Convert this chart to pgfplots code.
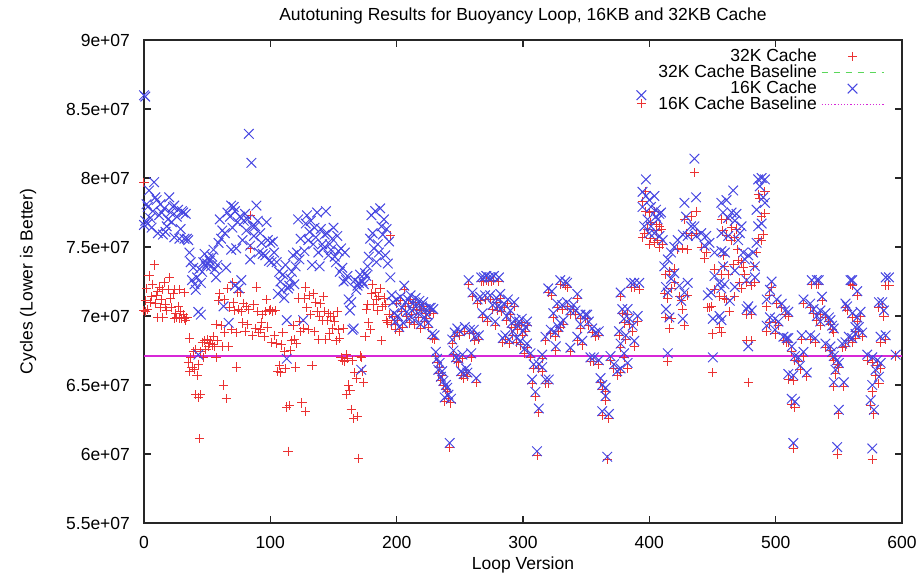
\documentclass[border=0pt]{standalone}
\usepackage{pgfplots}
\pgfplotsset{compat=1.18}
\usepackage{fontspec}
\setmainfont{Liberation Sans}
\definecolor{myred}{RGB}{235,50,50}
\definecolor{myblue}{RGB}{70,70,225}
\definecolor{mygreen}{RGB}{90,215,90}
\definecolor{mymag}{RGB}{215,40,215}
\begin{document}
\begin{tikzpicture}
\path[use as bounding box] (-72pt,-26pt) rectangle (389.5pt,261.5pt);
\begin{axis}[
  at={(0,0)}, anchor=south west,
  scale only axis, width=379pt, height=241.5pt,
  xmin=0, xmax=600, ymin=55, ymax=90,
  xtick={0,100,200,300,400,500,600},
  xticklabels={0,100,200,300,400,500,600},
  ytick={55,60,65,70,75,80,85,90},
  yticklabels={5.5e+07,6e+07,6.5e+07,7e+07,7.5e+07,8e+07,8.5e+07,9e+07},
  tick align=inside, major tick length=3.5pt, minor tick num=0,
  axis line style={black!85, line width=0.6pt},
  every tick/.style={black!85, line width=0.6pt},
  font=\fontsize{8.75}{10}\selectfont,
  yticklabel style={anchor=east, xshift=-3.5pt},
  xticklabel style={anchor=north, yshift=-3pt},
  title={Autotuning Results for Buoyancy Loop, 16KB and 32KB Cache},
  every axis title/.style={at={(axis description cs:0.5,1)}, anchor=base, yshift=10pt, font=\fontsize{8.75}{10}\selectfont},
  xlabel={Loop Version},
  every axis x label/.style={at={(axis description cs:0.5,0)}, anchor=base, yshift=-23pt},
  ylabel={Cycles (Lower is Better)},
  every axis y label/.style={at={(axis description cs:0,0.5)}, rotate=90, anchor=center, yshift=58pt},
  legend plot pos=right,
  legend cell align=right,
  legend image code/.code={\draw[mark repeat=2,mark phase=2,#1] plot coordinates {(0pt,0pt) (15.5pt,0pt) (31pt,0pt)};},
  legend style={draw=none, fill=none, at={(rel axis cs:0.977,0.983)}, anchor=north east,
    inner sep=0pt, row sep=0pt, column sep=2pt,
    nodes={inner sep=0pt, text height=6.2pt, text depth=1.8pt}},
]
% 32K Cache (red +)
\addplot[only marks, mark=+, mark size=2.3pt, color=myred, mark options={line width=0.5pt}, forget plot] coordinates {
(0,79.7)(0,70.4)(1,71.1)(1,70.3)(2,72.0)(3,70.5)(4,72.9)(5,71.0)(6,71.4)(7,72.3)(8,73.7)(9,70.9)(10,71.5)(11,71.8)(11,69.9)(12,72.1)(13,70.6)(14,71.2)(15,71.9)(15,69.9)(16,72.4)(17,70.8)(18,70.4)(19,71.9)(20,72.8)(21,71.3)(22,70.6)(23,71.6)(24,71.9)(24,69.8)(25,70.2)(26,69.9)(27,70.7)(28,71.9)(28,69.8)(29,70.3)(30,69.8)(31,70.1)(32,71.7)(32,69.8)(33,69.7)(34,69.9)(35,66.6)(36,68.4)(36,66.0)(37,67.0)(38,66.3)(39,67.4)(40,66.1)(41,67.6)(41,64.3)(42,65.7)(43,66.5)(43,64.1)(44,61.1)(45,67.4)(45,64.3)(46,68.1)(47,67.0)(48,68.2)(49,67.6)(50,68.3)(51,67.8)(52,68.0)(53,68.2)(54,67.9)(55,68.5)(56,67.8)(57,67.0)(57,69.4)(58,68.2)(59,71.1)(60,71.6)(61,69.3)(62,67.8)(63,65.0)(64,68.8)(64,71.2)(65,64.0)(66,72.0)(67,67.8)(68,70.6)(69,69.0)(70,72.4)(71,71.0)(72,70.4)(73,68.8)(73,66.3)(74,71.7)(75,70.5)(76,71.7)(77,70.3)(78,69.5)(79,70.9)(80,68.9)(81,70.7)(82,69.4)(83,70.5)(84,77.3)(84,74.9)(86,68.6)(87,70.8)(88,69.1)(89,72.1)(90,70.3)(91,68.8)(92,69.0)(93,69.5)(94,70.1)(95,68.5)(96,70.3)(97,71.2)(98,69.2)(99,70.4)
(100,70.5)(101,68.1)(102,70.3)(103,68.6)(104,70.4)(105,68.0)(106,66.0)(107,66.4)(108,65.9)(109,67.9)(110,68.8)(111,67.4)(112,66.2)(113,63.4)(114,60.2)(115,63.5)(116,67.5)(117,68.2)(118,69.3)(119,68.3)(120,66.3)(121,68.0)(122,71.3)(123,69.6)(124,68.9)(125,63.7)(126,69.1)(127,71.3)(128,72.1)(128,63.1)(129,70.6)(130,69.0)(131,71.5)(132,70.1)(133,66.4)(134,71.6)(135,68.9)(136,71.0)(137,70.3)(138,68.3)(139,70.0)(140,70.9)(141,69.7)(142,71.4)(143,70.3)(144,68.3)(145,69.7)(146,70.2)(147,68.7)(148,70.0)(149,69.1)(150,70.0)(151,69.6)(152,68.2)(153,70.3)(154,69.0)(155,68.4)(156,67.0)(157,66.8)(158,69.1)(159,66.7)(160,67.2)(160,64.3)(161,66.9)(162,65.0)(163,64.6)(164,63.2)(165,66.8)(166,62.6)(167,65.9)(168,65.5)(169,62.7)(170,59.7)(171,67.1)(172,67.0)(173,66.0)(174,65.2)(175,68.5)(176,70.5)(177,70.8)(178,69.5)(179,69.0)(180,71.6)(181,72.3)(182,70.8)(183,71.7)(184,71.2)(185,70.4)(186,71.4)(187,72.0)(188,68.2)(189,70.7)(190,71.3)(191,70.8)(192,69.7)(193,69.5)(194,70.1)(195,75.8)(196,69.4)(197,70.0)(198,69.7)(199,69.0)
(200,70.9)(201,69.7)(202,68.9)(203,71.1)(204,70.3)(205,69.2)(206,71.9)(207,70.7)(208,70.0)(209,70.9)(210,69.5)(211,71.2)(212,70.1)(213,70.6)(214,69.4)(215,71.0)(216,70.5)(217,69.9)(218,70.8)(219,69.1)(220,70.4)(221,70.7)(222,69.6)(223,70.2)(224,69.8)(225,69.2)(226,70.3)(227,70.3)(228,68.4)(229,70.2)(230,68.3)(231,67.1)(232,66.6)(233,65.8)(234,66.3)(235,65.3)(236,65.7)(237,65.0)(238,63.8)(239,64.7)(240,64.5)(241,64.0)(242,60.5)(243,63.7)(244,68.0)(245,67.2)(246,68.5)(247,66.7)(248,68.8)(249,66.6)(250,68.6)(251,65.7)(252,66.9)(253,65.5)(254,68.9)(255,65.9)(256,65.6)(257,72.3)(258,68.7)(259,67.0)(260,71.4)(261,68.7)(262,68.2)(263,65.2)(264,70.9)(265,68.3)(266,71.1)(267,72.5)(268,69.9)(269,72.5)(270,71.2)(271,72.6)(272,69.6)(273,72.5)(274,71.2)(275,72.5)(276,70.5)(277,72.6)(278,69.3)(279,71.0)(280,70.4)(281,72.5)(282,71.3)(283,70.3)(284,68.1)(285,70.6)(286,68.3)(287,69.7)(288,70.9)(289,68.0)(290,70.1)(291,69.2)(292,68.6)(293,70.7)(294,69.4)(295,68.1)(296,69.0)(297,69.3)(298,67.9)(299,69.5)(300,68.6)(301,67.3)(302,68.9)
(303.2,69.3)(303.2,67.7)(305.9,67.0)(307.2,65.1)(308.5,66.2)(309.8,64.2)(312.5,66.2)(312.5,63.0)(311.1,59.9)(315.2,66.9)(315.2,66.0)(317.8,68.2)(317.8,65.1)(320.4,65.1)(320.0,71.7)(322,68.7)(322.9,71.5)(324,69.9)(325.5,68.5)(326,67.5)(327,70.6)(328,68.9)(329.5,72.3)(329.5,69.2)(331,70.5)(332,69.4)(333.5,72.2)(334.9,72.1)(334.9,70.7)(337.5,70.1)(337.5,67.4)(340,70.5)(341.6,70.1)(343,71.3)(343,68.2)(345.5,69.1)(345.5,69.8)(346.9,67.9)(349.5,69.8)(350.8,69.8)(352.1,69.3)(353.4,66.7)(354.8,68.8)(356.1,66.7)(357.4,68.5)(360,68.6)(360,66.5)(361.4,65.2)(362.7,64.7)(362.7,62.8)(365.4,64.5)(365.4,63.9)(366.7,59.6)(368,62.6)(369.3,66.8)(372,66.2)(374.6,65.7)(376,68.6)(377.3,71.4)(377.3,67.7)(377.3,65.9)(378.6,70.2)(380,69.5)(380,67.0)
(381.5,68.3)(382.8,70.1)(382.8,66.2)(384.2,69.4)(385.5,72.1)(386.8,68.9)(388.1,72.1)(388.1,67.8)(390.8,69.6)(392,71.9)(393.7,85.4)(394.6,78.3)(394.6,75.7)(396,76.0)(397.3,79.0)(397.3,77.6)(398.6,76.3)(400,77.5)(400,75.2)(401.3,76.8)(401.3,75.6)(404,77.6)(404,75.3)(405.3,76.6)(405.3,76.2)(406.6,75.5)(408,76.5)(408,75.0)(409.3,76.3)(410.6,75.2)(411.9,71.6)(413.2,73.0)(413.2,69.9)(414.6,71.3)(414.6,66.7)(415.9,73.2)(415.9,69.1)(417.2,69.8)(417.2,72.0)(419.8,73.4)(419.8,72.4)(422.5,74.8)(423.8,71.4)(425.2,71.1)(426.5,74.9)(426.5,70.5)(427.8,77.0)(427.8,69.3)(429.1,76.0)(430.4,74.8)(430.4,71.5)(433.1,77.2)(433.1,75.8)(435.7,80.4)(437,76.0)(437,77.6)(441,75.0)(443.7,74.2)(445,74.6)(446.3,70.6)(447.6,70.6)(449,70.7)(450.3,68.7)(450.3,65.9)(451.6,73.4)(451.6,71.9)(455.6,69.2)(455.6,71.4)(457,77.0)(457,68.8)(458.3,76.2)(459.5,71.3)
(457,73.0)(458.4,74.4)(459.8,73.6)(461,75.8)(461,71.2)(461.1,77.0)(462.4,73.0)(463.7,70.3)(465,76.4)(465,75.5)(466.4,73.7)(467.7,75.7)(467.7,71.4)(469,76.3)(470,74.8)(470.3,74.0)(471.7,72.4)(473,73.9)(473,72.0)(474.3,73.5)(475.7,73.0)(477,72.4)(477,70.1)(477,68.2)(478.3,65.2)(481,70.1)(481,72.2)(481,68.2)(482.2,73.6)(483.6,72.4)(484.9,74.6)(486.2,75.6)(486.2,78.8)(487.5,78.5)(488.9,77.2)(488.9,75.5)(490.2,75.9)(491.5,79.0)(491.5,77.4)(492.9,70.7)(492.9,68.9)(495.5,71.5)(495.5,69.5)(496.8,72.1)(499.5,69.5)(499.5,68.7)(500.8,70.9)(502.2,69.3)(504.8,70.6)(506.1,68.2)(507.4,70.1)(508.7,68.1)(510,70.0)(510,68.1)(510,65.4)(512.7,67.4)(512.7,63.6)(514,65.3)(514,60.4)(515.3,66.8)(515.3,63.4)(518,66.7)(519.3,66.1)(520.6,68.3)(522,67.1)(522,70.9)(524.6,65.6)(527.3,70.6)(527.3,68.3)(528.6,72.3)(530,70.2)(531.3,68.1)(532.6,72.3)(532.6,69.7)(535.3,69.3)
(534.1,72.3)(535.4,70.1)(536.7,71.1)(539.4,69.9)(539.4,67.7)(542.1,69.6)(543.4,69.4)(543.4,67.5)(544.7,69.0)(544.7,67.1)(546,68.8)(546,66.8)(546,64.9)(547.4,65.8)(548.7,60.0)(548.6,66.5)(550,66.3)(550,62.9)(552.6,67.7)(554,64.9)(555.3,70.6)(555.3,67.8)(556.6,70.4)(557.9,68.2)(559.3,72.3)(560.6,72.2)(560.6,69.9)(560.6,68.1)(563.2,68.9)(563.2,68.4)(564.6,71.5)(564.6,69.6)(565.9,68.9)(567.2,70.0)(568.5,68.5)(572.5,66.8)(575.2,63.5)(576.5,66.6)(576.5,64.5)(576.5,59.6)(577.8,62.9)(579.1,65.7)(580.5,66.4)(581.8,65.1)(581.8,70.6)(583.1,66.2)(583.1,68.1)(584.4,70.6)(585.7,70.0)(587.1,72.2)(587.1,68.3)(589.7,72.2)(595,67.1)
};
% 32K baseline
\addplot[mygreen, dashed, line width=0.6pt, forget plot] coordinates {(0,67.1)(600,67.1)};
% 16K Cache (blue x)
\addplot[only marks, mark=x, mark size=3.4pt, color=myblue, mark options={line width=0.5pt}, forget plot] coordinates {
(0,86.0)(1,85.9)(0,76.6)(1,76.9)(2,78.1)(3,77.9)(3,76.7)(4,79.1)(5,77.1)(6,76.4)(7,77.6)(8,79.7)(9,78.6)(10,78.4)(11,76.0)(12,77.3)(13,78.1)(14,77.5)(15,75.9)(16,77.8)(17,76.1)(18,76.5)(19,77.0)(20,78.6)(21,77.5)(22,76.8)(23,77.9)(24,78.0)(24,75.7)(26,77.2)(27,77.7)(28,75.6)(29,76.3)(30,77.6)(31,77.5)(32,75.6)(33,77.4)(34,75.6)(35,75.5)(36,74.6)(37,73.9)(38,72.6)(39,73.5)(40,72.3)(41,71.9)(42,72.8)(43,70.3)(43,67.2)(44,73.4)(45,72.4)(45,70.1)(46,73.2)(47,73.9)(48,74.5)(49,73.6)(50,73.8)(51,74.2)(52,74.0)(53,73.6)(54,74.3)(55,74.8)(56,73.4)(57,72.8)(58,73.7)(59,75.3)(60,77.0)(61,75.6)(62,76.2)(63,70.7)(64,76.0)(65,73.5)(66,77.5)(67,69.5)(68,77.2)(69,78.0)(69,74.8)(70,76.4)(71,77.9)(72,77.6)(72,72.2)(73,74.9)(74,76.8)(75,72.0)(76,77.2)(77,72.6)(78,75.5)(79,76.9)(80,77.4)(81,76.2)(82,77.0)(83,83.2)(84,74.1)(84,75.1)(85,81.1)(86,76.5)(87,75.8)(88,76.5)(89,78.0)(90,76.9)(91,74.6)(92,76.0)(93,75.3)(94,74.5)(96,74.4)(97,76.8)(98,75.5)(99,74.0)
(100,75.3)(101,73.9)(102,75.4)(103,74.6)(105,73.9)(106,71.6)(107,73.2)(108,72.5)(109,71.9)(110,73.0)(111,71.3)(112,73.7)(113,66.9)(113,69.7)(114,72.0)(115,72.2)(116,72.7)(117,73.2)(118,74.4)(119,72.3)(120,73.6)(121,74.6)(122,77.0)(123,74.1)(124,75.6)(126,69.7)(127,74.7)(128,76.7)(129,77.3)(130,75.5)(131,76.1)(132,76.9)(133,73.7)(134,75.2)(135,76.4)(136,75.7)(137,77.5)(138,74.6)(139,73.6)(140,76.3)(141,75.2)(142,74.9)(143,75.9)(144,77.6)(145,76.0)(146,74.4)(147,75.2)(148,74.8)(149,75.6)(150,76.4)(151,74.3)(152,73.9)(153,75.8)(154,74.7)(155,73.2)(156,74.9)(157,73.5)(158,72.5)(159,74.6)(160,72.6)(161,72.9)(162,71.2)(163,70.4)(164,71.0)(165,69.0)(166,69.1)(167,72.6)(168,71.9)(169,72.2)(170,72.4)(171,73.0)(172,66.1)(173,72.5)(174,72.3)(175,73.1)(176,72.9)(177,73.6)(178,74.3)(179,75.6)(180,77.3)(181,76.0)(182,74.9)(183,77.6)(184,73.9)(185,75.2)(186,74.6)(187,77.8)(188,76.5)(189,75.9)(190,77.0)(191,74.4)(192,76.3)(193,73.8)(194,75.4)(195,72.8)(196,71.5)(197,71.0)(198,70.2)(199,69.6)
(200,71.2)(201,70.0)(202,69.2)(203,71.4)(204,70.6)(205,69.5)(206,72.2)(207,71.0)(208,70.3)(209,71.2)(210,69.8)(211,71.5)(212,70.4)(213,70.9)(214,69.7)(215,71.3)(216,70.8)(217,70.2)(218,71.1)(219,69.4)(220,70.7)(221,71.0)(222,69.9)(223,70.5)(224,70.1)(225,69.5)(226,70.6)(227,70.6)(228,68.7)(229,70.5)(230,68.6)(231,67.4)(232,66.9)(233,66.1)(234,66.6)(235,65.6)(236,66.0)(237,65.3)(238,64.1)(239,65.0)(240,64.8)(241,64.3)(242,60.8)(243,64.0)(244,68.3)(245,67.5)(246,68.8)(247,67.0)(248,69.1)(249,66.9)(250,68.9)(251,66.0)(252,67.2)(253,65.8)(254,69.2)(255,66.2)(256,65.9)(257,72.6)(258,69.0)(259,67.3)(260,71.7)(261,69.0)(262,68.5)(263,65.5)(264,71.2)(265,68.6)(266,71.4)(267,72.8)(268,70.2)(269,72.8)(270,71.5)(271,72.9)(272,69.9)(273,72.8)(274,71.5)(275,72.8)(276,70.8)(277,72.9)(278,69.6)(279,71.3)(280,70.7)(281,72.8)(282,71.6)(283,70.6)(284,68.4)(285,70.9)(286,68.6)(287,70.0)(288,71.2)(289,68.3)(290,70.4)(291,69.5)(292,68.9)(293,71.0)(294,69.7)(295,68.4)(296,69.3)(297,69.6)(298,68.2)(299,69.8)(300,68.9)(301,67.6)(302,69.2)
(303.2,69.6)(303.2,68.0)(305.9,67.3)(307.2,65.4)(308.5,66.5)(309.8,64.5)(312.5,66.5)(312.5,63.3)(311.1,60.2)(315.2,67.2)(315.2,66.3)(317.8,68.5)(317.8,65.4)(320.4,65.4)(320.0,72.0)(322,69.0)(322.9,71.8)(324,70.2)(325.5,68.8)(326,67.8)(327,70.9)(328,69.2)(329.5,72.6)(329.5,69.5)(331,70.8)(332,69.7)(333.5,72.5)(334.9,72.4)(334.9,71.0)(337.5,70.4)(337.5,67.7)(340,70.8)(341.6,70.4)(343,71.6)(343,68.5)(345.5,69.4)(345.5,70.1)(346.9,68.2)(349.5,70.1)(350.8,70.1)(352.1,69.6)(353.4,67.0)(354.8,69.1)(356.1,67.0)(357.4,68.8)(360,68.9)(360,66.8)(361.4,65.5)(362.7,65.0)(362.7,63.1)(365.4,64.8)(365.4,64.2)(366.7,59.8)(368,62.9)(369.3,67.1)(372,66.5)(374.6,66.0)(376,68.9)(377.3,71.7)(377.3,68.0)(377.3,66.2)(378.6,70.5)(380,69.8)(380,67.3)
(381.5,68.6)(382.8,70.5)(382.8,66.6)(384.2,69.8)(385.5,72.4)(386.8,69.3)(388.1,72.4)(388.1,68.2)(390.8,70.0)(392,72.4)(393.7,86.0)(394.6,79.0)(394.6,77.9)(396,76.5)(397.3,79.9)(397.3,78.7)(398.6,77.0)(400,78.4)(400,76.0)(401.3,77.9)(401.3,76.5)(404,78.7)(404,76.0)(405.3,77.7)(405.3,77.2)(406.6,77.0)(408,77.4)(408,75.8)(409.3,77.5)(410.6,75.5)(411.9,73.6)(413.2,72.1)(413.2,70.5)(414.6,74.1)(414.6,71.7)(414.6,67.3)(415.9,69.9)(417.2,74.6)(417.2,72.7)(419.8,75.0)(419.8,73.1)(422.5,75.5)(423.8,72.2)(425.2,71.1)(426.5,75.9)(426.5,69.8)(427.8,78.2)(427.8,71.7)(429.1,77.2)(430.4,75.8)(430.4,72.4)(433.1,76.5)(435.7,81.4)(435.7,76.5)(437,78.6)(437,75.8)(441,76.0)(443.7,75.1)(445,75.8)(446.3,71.5)(447.6,75.3)(449,71.7)(450.3,69.8)(450.3,67.0)(451.6,74.6)(451.6,72.9)(455.6,70.0)(455.6,72.4)(457,78.2)(457,72.0)(458.3,77.5)(459.5,72.3)
(457.1,76.0)(457.1,74.7)(457.1,69.7)(458.4,73.6)(459.8,74.6)(461.1,78.4)(462.4,77.1)(462.4,75.8)(463.7,71.1)(465.1,77.5)(466.4,79.1)(467.7,76.9)(467.7,73.3)(467.7,72.1)(469,77.4)(470.3,75.5)(471.7,76.0)(473,76.5)(474.3,74.6)(475.7,74.1)(477,72.6)(477,70.5)(478.3,74.4)(478.3,70.7)(478.3,67.8)(481,70.4)(482.2,74.6)(483.6,73.6)(483.6,72.8)(484.9,75.3)(484.9,77.7)(486.2,76.5)(486.2,79.9)(487.5,79.4)(488.9,80.0)(488.9,76.7)(490.2,78.6)(491.5,79.9)(491.5,78.2)(492.9,71.2)(492.9,69.3)(495.5,71.9)(495.5,69.9)(496.8,72.5)(499.5,69.8)(499.5,69.0)(500.8,71.2)(502.2,69.6)(504.8,70.9)(506.1,68.5)(507.4,70.4)(508.7,68.4)(510,70.3)(510,68.4)(510,65.8)(512.7,67.8)(512.7,64.0)(514,65.7)(514,60.8)(515.3,67.1)(515.3,63.8)(518,67.0)(519.3,66.4)(520.6,68.6)(522,67.4)(522,71.2)(524.6,65.9)(527.3,70.9)(527.3,68.6)(528.6,72.6)(530,70.5)(531.3,68.4)(532.6,72.6)(532.6,70.0)(535.3,69.6)
(534.1,72.6)(535.4,70.4)(536.7,71.4)(539.4,70.2)(539.4,68.0)(542.1,69.9)(543.4,69.7)(543.4,67.8)(544.7,69.3)(544.7,67.4)(546,69.1)(546,67.1)(546,65.2)(547.4,66.1)(548.7,60.5)(548.6,66.8)(550,66.6)(550,63.2)(552.6,68.0)(554,65.2)(555.3,70.9)(555.3,68.1)(556.6,70.7)(557.9,68.5)(559.3,72.6)(560.6,72.6)(560.6,70.2)(560.6,68.4)(563.2,69.2)(563.2,68.7)(564.6,71.8)(564.6,69.9)(565.9,69.2)(567.2,70.3)(568.5,68.8)(572.5,67.2)(575.2,63.9)(576.5,67.0)(576.5,65.0)(576.5,60.4)(577.8,63.2)(579.1,66.1)(580.5,66.8)(581.8,65.6)(581.8,71.0)(583.1,66.6)(583.1,68.5)(584.4,71.0)(585.7,70.4)(587.1,72.8)(587.1,68.6)(589.7,72.8)(595,67.2)
};
% 16K baseline
\addplot[mymag, line width=1pt, forget plot] coordinates {(0,67.1)(600,67.1)};
\addlegendimage{only marks, mark=+, mark size=2.3pt, color=myred, mark options={line width=0.5pt}}
\addlegendentry{32K Cache}
\addlegendimage{mygreen, dashed, line width=0.6pt}
\addlegendentry{32K Cache Baseline}
\addlegendimage{only marks, mark=x, mark size=3.4pt, color=myblue, mark options={line width=0.5pt}}
\addlegendentry{16K Cache}
\addlegendimage{mymag, densely dotted, line width=0.6pt}
\addlegendentry{16K Cache Baseline}
\end{axis}
\end{tikzpicture}
\end{document}
